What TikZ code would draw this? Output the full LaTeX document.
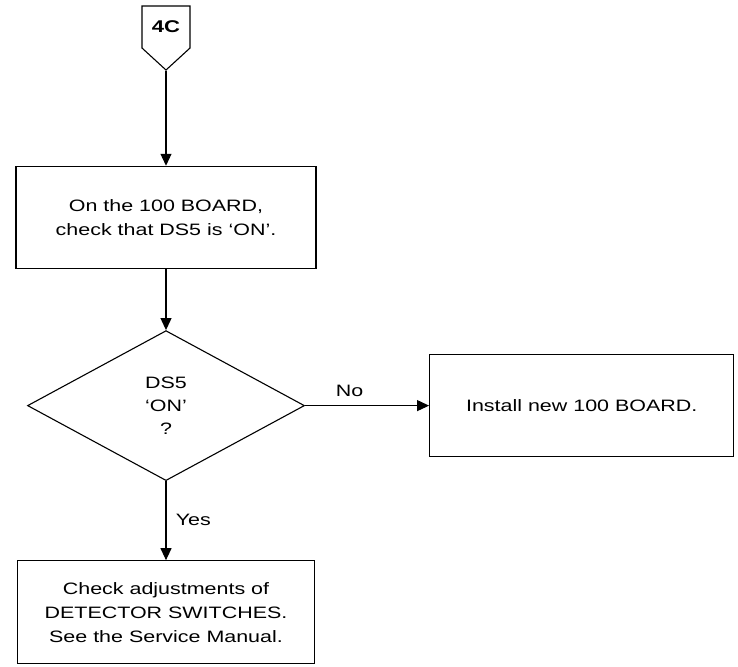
\documentclass[tikz,border=0pt]{standalone}
\usepackage{fontspec}
\setmainfont[FakeStretch=1.3]{Liberation Sans}
\usetikzlibrary{arrows.meta,positioning,shapes.geometric,shapes.symbols}

\begin{document}
\begin{tikzpicture}[
  x=1pt, y=1pt,
  box/.style={draw, line width=1.3pt, align=center, inner sep=0pt, font=\fontsize{16.5}{24}\selectfont},
  decision/.style={draw, diamond, line width=1.1pt, align=center, inner sep=0pt, minimum width=277pt, minimum height=150pt, font=\fontsize{16.5}{23}\selectfont},
  offpage/.style={draw, signal, signal to=south, signal pointer angle=95, line width=1.1pt, minimum width=48pt, minimum height=55pt, inner sep=0pt, font=\bfseries\fontsize{17}{19}\selectfont},
  flow/.style={-{Triangle[length=12pt,width=11pt]}, line width=1.1pt},
  lbl/.style={font=\fontsize{16.5}{18}\selectfont}
]
\useasboundingbox (0,0) rectangle (738,-666);
\node[offpage] (c4) at (166,-27) {4C};
\node[box, minimum width=300pt, minimum height=102pt, below=95pt of c4] (check) {On the 100 BOARD,\\check that DS5 is `ON'.};
\node[decision, below=61pt of check] (ds5) {DS5\\`ON'\\?};
\node[box, minimum width=304pt, minimum height=102pt, right=124pt of ds5] (install) {Install new 100 BOARD.};
\node[box, minimum width=297pt, minimum height=103pt, below=79pt of ds5] (adjust) {Check adjustments of\\DETECTOR SWITCHES.\\See the Service Manual.};
\draw[flow] (c4.south) -- (check.north);
\draw[flow] (check.south) -- (ds5.north);
\draw[flow] (ds5.east) -- node[lbl, pos=0.36, above=5pt] {No} (install.west);
\draw[flow] (ds5.south) -- node[lbl, pos=0.49, right=6pt] {Yes} (adjust.north);
\end{tikzpicture}
\end{document}
